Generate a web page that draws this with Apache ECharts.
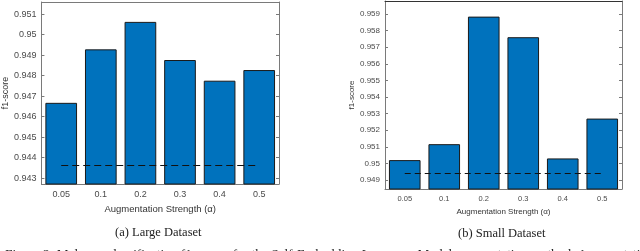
<!DOCTYPE html>
<html><head><meta charset="utf-8">
<script src="https://cdn.jsdelivr.net/npm/echarts@6/dist/echarts.min.js"></script>
<style>html,body{margin:0;padding:0;background:#fff}#c{width:640px;height:251px}</style>
</head><body><div id="c"></div>
<script>
const categories = ['0.05', '0.1', '0.2', '0.3', '0.4', '0.5'];
const largeValues = [0.94667, 0.94928, 0.95062, 0.94876, 0.94775, 0.94827];
const smallValues = [0.95020, 0.95116, 0.95884, 0.95760, 0.95030, 0.95270];
const largeBaseline = 0.94363;
const smallBaseline = 0.94940;
const largeTicks = [0.943, 0.944, 0.945, 0.946, 0.947, 0.948, 0.949, 0.950, 0.951];
const smallTicks = [0.949, 0.950, 0.951, 0.952, 0.953, 0.954, 0.955, 0.956, 0.957, 0.958, 0.959];
const largeRange = [0.94271, 0.95159];
const smallRange = [0.94846, 0.95978];
const xName = 'Augmentation Strength (\u03b1)';
const yName = 'f1-score';
const subCaptions = ['(a) Large Dataset', '(b) Small Dataset'];
const figCaption = 'Figure 2: Malware classification f1-scores for the Self-Embedding Language Model augmentation method. Augmentation';

const fmt = v => String(Number(v.toFixed(3)));
const sans = 'Liberation Sans, Arial, sans-serif';
const serif = 'Liberation Serif, Times New Roman, serif';
const axCol = '#7a7a7a';
const txtCol = '#4a4a4a';

function xAxes(grid, fs, gap, margin) {
  return [{
    type: 'category', gridIndex: grid, data: categories, position: 'bottom',
    axisLine: {lineStyle: {color: axCol, width: 1}},
    axisTick: {inside: true, length: 3, alignWithLabel: true, lineStyle: {color: axCol}},
    axisLabel: {color: txtCol, fontFamily: sans, fontSize: fs, margin: margin},
    name: xName, nameLocation: 'middle', nameGap: gap,
    nameTextStyle: {color: '#333', fontFamily: sans, fontSize: fs + 0.5},
    splitLine: {show: false}
  }, {
    type: 'category', gridIndex: grid, data: categories, position: 'top',
    axisLine: {lineStyle: {color: grid === 1 ? '#333' : axCol, width: 1}},
    axisTick: {inside: true, length: 3, alignWithLabel: true, lineStyle: {color: axCol}},
    axisLabel: {show: false}, splitLine: {show: false}
  }];
}
function yAxes(grid, range, ticks, fs, gap) {
  return [{
    type: 'value', gridIndex: grid, position: 'left', min: range[0], max: range[1],
    axisLine: {show: true, lineStyle: {color: axCol, width: 1}},
    axisTick: {show: true, inside: true, length: 3, customValues: ticks, lineStyle: {color: axCol}},
    axisLabel: {color: txtCol, fontFamily: sans, fontSize: fs, margin: 5, customValues: ticks, formatter: fmt},
    splitLine: {show: false},
    name: yName, nameLocation: 'middle', nameGap: gap,
    nameTextStyle: {color: '#333', fontFamily: sans, fontSize: fs}
  }, {
    type: 'value', gridIndex: grid, position: 'right', min: range[0], max: range[1],
    axisLine: {show: true, lineStyle: {color: axCol, width: 1}},
    axisTick: {show: true, inside: true, length: 3, customValues: ticks, lineStyle: {color: axCol}},
    axisLabel: {show: false}, splitLine: {show: false}
  }];
}
function barSeries(xi, yi, values, base, dash) {
  return {
    type: 'bar', xAxisIndex: xi, yAxisIndex: yi, data: values,
    barCategoryGap: '20%',
    itemStyle: {color: '#0072BD', borderColor: '#1a1a1a', borderWidth: 1},
    markLine: {
      silent: true, symbol: ['none', 'none'], label: {show: false},
      lineStyle: {color: '#111', width: 1, type: dash},
      data: [[{coord: [0, base]}, {coord: [categories.length - 1, base]}]]
    }
  };
}

const chart = echarts.init(document.getElementById('c'), null, {renderer: 'canvas'});
chart.setOption({
  animation: false,
  grid: [
    {left: 41, top: 2, width: 238, height: 182},
    {left: 385, top: 1, width: 237, height: 188}
  ],
  xAxis: [...xAxes(0, 9, 20, 6), ...xAxes(1, 7.5, 13, 6)],
  yAxis: [...yAxes(0, largeRange, largeTicks, 9, 24), ...yAxes(1, smallRange, smallTicks, 8, 27)],
  series: [
    barSeries(0, 0, largeValues, largeBaseline, [7, 4]),
    barSeries(2, 2, smallValues, smallBaseline, [6, 4])
  ],
  title: [
    {text: subCaptions[0], left: 110, top: 221, textStyle: {fontFamily: serif, fontSize: 12.5, fontWeight: 'normal', color: '#222'}},
    {text: subCaptions[1], left: 453, top: 222, textStyle: {fontFamily: serif, fontSize: 12.5, fontWeight: 'normal', color: '#222'}},
    {text: figCaption, left: 0, top: 243, textStyle: {fontFamily: serif, fontSize: 13.3, fontWeight: 'normal', color: '#222'}}
  ]
});
</script></body></html>
